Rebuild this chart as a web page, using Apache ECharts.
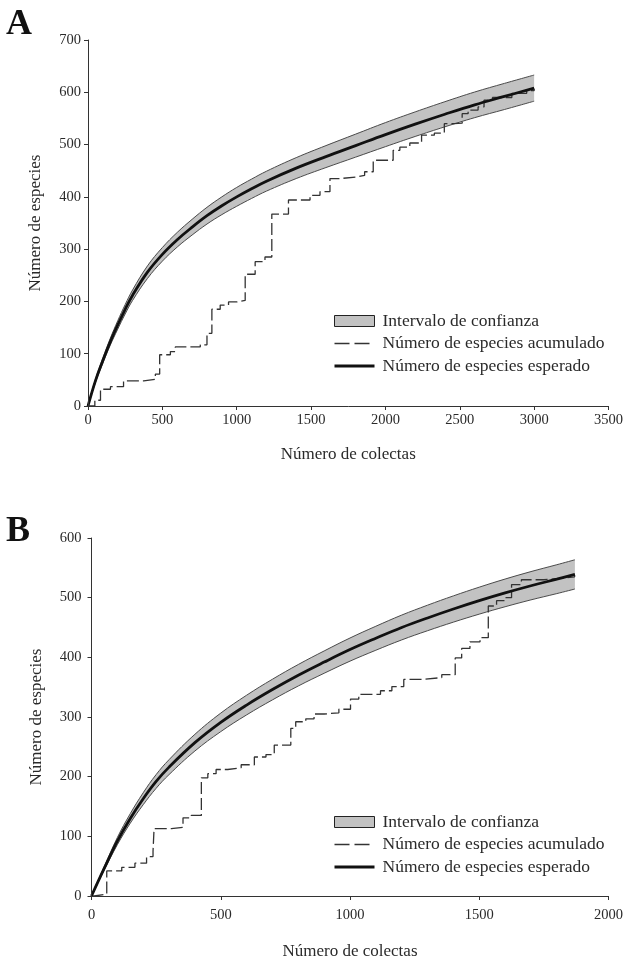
<!DOCTYPE html>
<html><head><meta charset="utf-8">
<script src="https://cdn.jsdelivr.net/npm/echarts@6/dist/echarts.min.js"></script>
<style>html,body{margin:0;padding:0;background:#fff}#c{width:626px;height:961px}</style>
</head><body><div id="c"></div>
<script>
// ---------- Panel A data ----------
const aX        = [0, 50, 100, 150, 200, 250, 300, 400, 500, 600, 700, 800, 900, 1000, 1100, 1200, 1400, 1600, 1800, 2000, 2200, 2400, 2600, 2800, 3000];
const aExpected = [0, 48, 87, 123, 155, 185, 212, 256, 290, 318, 342, 364, 383, 400, 415.5, 430, 455, 477, 498, 519, 539, 558, 576, 592, 608];
const aUpper    = [0, 51, 92, 129.5, 163, 194, 222, 268, 303, 332, 357, 380, 400, 418, 434, 449, 475, 498, 520, 542, 562.5, 582, 600.5, 617, 633];
const aLower    = [0, 45, 82, 116.5, 147, 176, 202, 244, 277, 304, 327, 348, 366, 382, 397, 411, 435, 456, 476, 496, 515.5, 534, 551.5, 567, 583];
const aStepX = [0, 46, 84, 151, 239, 375, 453, 482, 554, 587, 755, 800, 833, 889, 945, 1001, 1057, 1124, 1190, 1236, 1348, 1493, 1560, 1627, 1695, 1807, 1860, 1918, 2052, 2097, 2164, 2243, 2329, 2396, 2463, 2516, 2556, 2623, 2663, 2720, 2850, 2950, 3000];
const aStepY = [0, 11, 32, 37, 48, 51, 61, 98, 104, 113, 117, 139, 185, 193, 199, 202, 252, 276, 285, 367, 394, 403, 410, 435, 438, 441, 448, 470, 489, 495, 503, 518, 522, 540, 541, 559, 566, 572, 585, 590, 598, 603, 607];
const aXTicks = {min: 0, max: 3500, interval: 500};
const aYTicks = {min: 0, max: 700, interval: 100};

// ---------- Panel B data ----------
const bX        = [0, 50, 100, 150, 200, 250, 300, 400, 500, 600, 700, 800, 900, 1000, 1100, 1200, 1300, 1400, 1500, 1600, 1700, 1800, 1870];
const bExpected = [0, 47, 92, 130, 163, 192, 216, 257, 291, 320, 346, 370, 392, 413, 432, 450, 466, 481, 495, 508, 520, 531, 539];
const bUpper    = [0, 50, 98, 138, 173, 203.5, 228.5, 271, 306.5, 336.5, 363.3, 388, 410.7, 432.4, 452.1, 470.8, 487.4, 503, 517.6, 531.2, 543.7, 555.2, 563.5];
const bLower    = [0, 44, 86, 122, 153, 180.5, 203.5, 243, 275.5, 303.5, 328.7, 352, 373.3, 393.6, 411.9, 429.2, 444.6, 459, 472.4, 484.8, 496.3, 506.8, 514.5];
const bStepX = [0, 10, 59, 117, 168, 213, 238, 242, 309, 354, 386, 425, 450, 482, 527, 579, 630, 675, 707, 771, 790, 829, 861, 900, 957, 1002, 1034, 1118, 1162, 1208, 1278, 1355, 1407, 1432, 1464, 1503, 1535, 1567, 1599, 1625, 1663, 1750, 1830, 1869];
const bStepY = [0, 3, 42, 48, 55, 66, 75, 113, 115, 131, 135, 198, 205, 212, 215, 220, 233, 237, 253, 281, 292, 297, 305, 307, 313, 330, 338, 344, 351, 363, 366, 371, 399, 415, 426, 433, 486, 495, 500, 522, 530, 533, 535, 537];
const bXTicks = {min: 0, max: 2000, interval: 500};
const bYTicks = {min: 0, max: 600, interval: 100};

const legendNames = ['Intervalo de confianza', 'Número de especies acumulado', 'Número de especies esperado'];
const xName = 'Número de colectas';
const yName = 'Número de especies';

// ---------- helpers ----------
const F = 'Liberation Serif';
const TXT = '#2a2a2a';
const AX = '#333';
const SMOOTH = 0.4;
const pairs = (xs, ys) => xs.map((x, i) => [x, ys[i]]);
const plain = v => String(v);

function xAxis(g, t, gap, margin) {
  return {
    gridIndex: g, type: 'value', min: t.min, max: t.max, interval: t.interval, z: 10,
    axisLine: {show: true, lineStyle: {color: AX, width: 1}},
    axisTick: {show: true, length: 4, lineStyle: {color: AX}},
    axisLabel: {fontFamily: F, fontSize: 14.5, color: TXT, margin: margin, formatter: plain},
    splitLine: {show: false},
    name: xName, nameLocation: 'middle', nameGap: gap,
    nameTextStyle: {fontFamily: F, fontSize: 17, color: TXT}
  };
}
function yAxis(g, t, gap, margin) {
  return {
    gridIndex: g, type: 'value', min: t.min, max: t.max, interval: t.interval, z: 10,
    axisLine: {show: true, lineStyle: {color: AX, width: 1}},
    axisTick: {show: true, length: 4, lineStyle: {color: AX}},
    axisLabel: {fontFamily: F, fontSize: 14.5, color: TXT, margin: margin, formatter: plain},
    splitLine: {show: false},
    name: yName, nameLocation: 'middle', nameGap: gap,
    nameTextStyle: {fontFamily: F, fontSize: 17, color: TXT}
  };
}
function panelSeries(g, xs, exp, up, lo, sx, sy) {
  return [
    // confidence band: grey area under the upper bound ...
    {type: 'line', name: legendNames[0], xAxisIndex: g, yAxisIndex: g,
     data: pairs(xs, up), smooth: SMOOTH, symbol: 'none', silent: true,
     lineStyle: {color: '#4a4a4a', width: 1},
     itemStyle: {color: '#c2c2c2'},
     areaStyle: {color: '#c2c2c2', opacity: 1}, z: 1},
    // ... cleared in white below the lower bound
    {type: 'line', name: 'lower' + g, xAxisIndex: g, yAxisIndex: g,
     data: pairs(xs, lo), smooth: SMOOTH, symbol: 'none', silent: true,
     lineStyle: {color: '#4a4a4a', width: 1},
     areaStyle: {color: '#ffffff', opacity: 1, shadowColor: '#ffffff', shadowBlur: 0, shadowOffsetX: 1.5}, z: 1},
    {type: 'line', name: legendNames[1], xAxisIndex: g, yAxisIndex: g,
     data: pairs(sx, sy), step: 'end', symbol: 'none', silent: true,
     lineStyle: {color: '#333', width: 1.3, type: [12, 4]},
     itemStyle: {color: '#333'}, z: 3},
    {type: 'line', name: legendNames[2], xAxisIndex: g, yAxisIndex: g,
     data: pairs(xs, exp), smooth: SMOOTH, symbol: 'none', silent: true,
     lineStyle: {color: '#111', width: 2.8},
     itemStyle: {color: '#111'}, z: 4}
  ];
}
function legend(top) {
  const noSym = {color: 'rgba(0,0,0,0)', borderWidth: 0, opacity: 0};
  return {
    left: 333, top: top, orient: 'vertical', itemWidth: 40, itemHeight: 11, itemGap: 4.5,
    selectedMode: false, padding: 0, z: 10,
    textStyle: {fontFamily: F, fontSize: 17.5, color: TXT, padding: [0, 0, 0, 3]},
    data: [
      {name: legendNames[0], icon: 'rect', itemStyle: {color: '#c2c2c2', borderColor: '#222', borderWidth: 1}},
      {name: legendNames[1], itemStyle: noSym, lineStyle: {type: [15, 5], width: 1.3, color: '#333'}},
      {name: legendNames[2], itemStyle: noSym, lineStyle: {width: 3, color: '#111'}}
    ]
  };
}

const chart = echarts.init(document.getElementById('c'), null, {renderer: 'canvas'});
chart.setOption({
  animation: false,
  backgroundColor: '#fff',
  title: [
    {text: 'A', left: 6, top: 7, padding: 0, textStyle: {fontFamily: F, fontSize: 36, fontWeight: 'bold', color: '#111'}},
    {text: 'B', left: 6, top: 514, padding: 0, textStyle: {fontFamily: F, fontSize: 36, fontWeight: 'bold', color: '#111'}}
  ],
  grid: [
    {left: 88, top: 40, width: 521, height: 366},
    {left: 91.5, top: 538, width: 519.5, height: 364}
  ],
  xAxis: [xAxis(0, aXTicks, 40, 7), xAxis(1, bXTicks, 47, 12)],
  yAxis: [yAxis(0, aYTicks, 44, 7), yAxis(1, bYTicks, 46, 10)],
  legend: [legend(312), legend(813)],
  series: [].concat(
    panelSeries(0, aX, aExpected, aUpper, aLower, aStepX, aStepY),
    panelSeries(1, bX, bExpected, bUpper, bLower, bStepX, bStepY)
  )
});
</script>
</body></html>
